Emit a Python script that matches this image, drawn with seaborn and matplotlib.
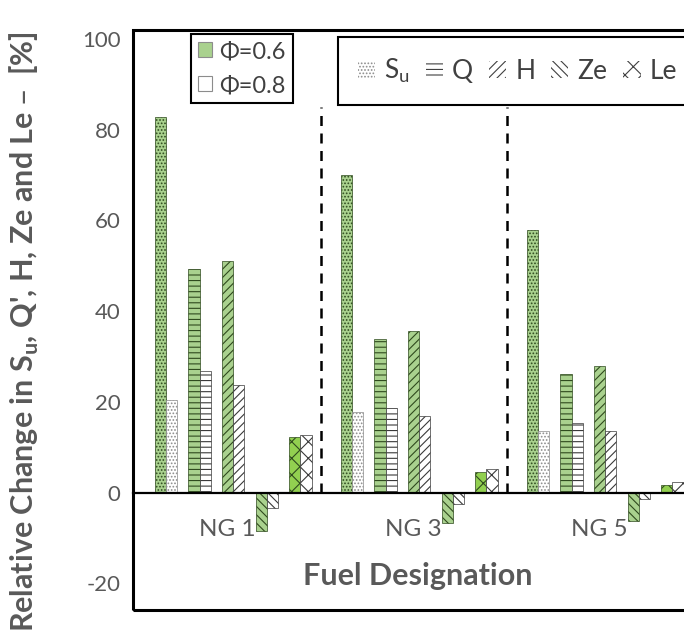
import matplotlib
matplotlib.use('Agg')
import matplotlib.pyplot as plt
from matplotlib.patches import Patch, Rectangle
import pandas as pd
import seaborn as sns

# values (relative change, %)
fuels = ['NG 1', 'NG 3', 'NG 5']
metrics = ['Su', 'Q', 'H', 'Ze', 'Le']
metric_labels = ['S$_\\mathregular{u}$', 'Q', 'H', 'Ze', 'Le']

su_06 = [82.9, 70.0, 57.8]
su_08 = [20.5, 17.8, 13.6]
q_06 = [49.3, 33.8, 26.1]
q_08 = [26.8, 18.7, 15.3]
h_06 = [51.1, 35.6, 27.8]
h_08 = [23.8, 16.8, 13.6]
ze_06 = [-8.5, -6.8, -6.3]
ze_08 = [-3.3, -2.6, -1.5]
le_06 = [12.2, 4.6, 1.6]
le_08 = [12.7, 5.3, 2.3]

yticks = [-20, 0, 20, 40, 60, 80, 100]

values = {
    ('Su', '0.6'): su_06, ('Su', '0.8'): su_08,
    ('Q', '0.6'): q_06, ('Q', '0.8'): q_08,
    ('H', '0.6'): h_06, ('H', '0.8'): h_08,
    ('Ze', '0.6'): ze_06, ('Ze', '0.8'): ze_08,
    ('Le', '0.6'): le_06, ('Le', '0.8'): le_08,
}

rows = []
for (m, phi), vals in values.items():
    for f, v in zip(fuels, vals):
        rows.append({'fuel': f, 'series': m + ' ' + phi, 'value': v})
df = pd.DataFrame(rows)

# empty "gap" levels keep space between the metric pairs
hue_order = []
for m in metrics:
    hue_order += ['gap ' + m, m + ' 0.6', m + ' 0.8']

green = '#a9d18e'
green_le = '#92d050'
palette = {}
for s in hue_order:
    if s.endswith('0.6'):
        palette[s] = green_le if s.startswith('Le') else green
    else:
        palette[s] = 'white'

hatches = {'Su': '.....', 'Q': '---', 'H': '////', 'Ze': '\\\\\\\\', 'Le': 'xx'}

sns.set_style('white')
plt.rcParams['font.family'] = ['Lato', 'DejaVu Sans']
plt.rcParams['hatch.linewidth'] = 0.8

fig = plt.figure(figsize=(6.84, 6.39), dpi=100)
ax = fig.add_axes([133 / 684, 29 / 639, 567 / 684, 580 / 639])

sns.barplot(data=df, x='fuel', y='value', hue='series', hue_order=hue_order,
            order=fuels, palette=palette, width=0.903, errorbar=None,
            saturation=1, legend=False, ax=ax)

conts = [c for c in ax.containers if len(c) > 0]
present = [s for s in hue_order if not s.startswith('gap')]
for cont, name in zip(conts, present):
    m, phi = name.split()
    if phi == '0.6':
        ec = '#2f4a1e'
    else:
        ec = '#8c8c8c' if m == 'Su' else '#3a3a3a'
    for p in cont:
        p.set_hatch(hatches[m])
        p.set_edgecolor(ec)
        p.set_linewidth(0.5)

ax.set_xlim(-0.5086, 2.5398)
ax.set_ylim(-25.9, 102.0)
ax.set_yticks(yticks)
ax.set_yticklabels([str(t) for t in yticks])

# category axis crosses at zero, as in the original
for sp in ['left', 'right', 'top']:
    ax.spines[sp].set_visible(False)
ax.spines['bottom'].set_position(('data', 0))
ax.spines['bottom'].set_color('black')
ax.spines['bottom'].set_linewidth(1.6)
ax.add_patch(Rectangle((0, 0), 1, 1, transform=ax.transAxes, fill=False,
                       ec='black', lw=2.2, clip_on=False, zorder=5))

ax.tick_params(axis='x', length=0, pad=19, labelsize=17.5, labelcolor='#595959')
ax.tick_params(axis='y', length=0, pad=9, labelsize=16, labelcolor='#595959')

ax.vlines([0.5, 1.5], 0, 85, colors='black', linestyles=(0, (4, 3)), lw=1.8)

ax.set_xlabel('Fuel Designation', fontsize=22, fontweight='bold', color='#595959')
ax.xaxis.set_label_coords(0.503, 0.083)
ax.set_ylabel("Relative Change in S$_\\mathregular{u}$, Q', H, Ze and Le \u2013  [%]",
              fontsize=22, fontweight='bold', color='#595959')
ax.yaxis.set_label_coords(-0.163, 0.48)

phi_handles = [Patch(fc=green, ec='#8c8c8c', lw=0.8, label='\u03a6=0.6'),
               Patch(fc='white', ec='#8c8c8c', lw=0.8, label='\u03a6=0.8')]
leg1 = ax.legend(handles=phi_handles, loc='upper left',
                 bbox_to_anchor=(191 / 684, 1 - 34 / 639), bbox_transform=fig.transFigure,
                 fancybox=False, edgecolor='black', framealpha=1, fontsize=17,
                 labelcolor='#404040', handlelength=0.6, handleheight=0.6,
                 handletextpad=0.3, labelspacing=0.55, borderaxespad=0, borderpad=0.3)
leg1.get_frame().set_linewidth(1.5)
ax.add_artist(leg1)

met_handles = []
for m, lbl in zip(metrics, metric_labels):
    ec = '#8c8c8c' if m == 'Su' else '#404040'
    met_handles.append(Patch(fc='white', ec=ec, lw=0, hatch=hatches[m], label=lbl))
leg2 = ax.legend(handles=met_handles, loc='upper left', ncol=5,
                 bbox_to_anchor=(338 / 684, 1 - 37 / 639), bbox_transform=fig.transFigure,
                 fancybox=False, edgecolor='black', framealpha=1, fontsize=19,
                 labelcolor='#404040', handlelength=0.65, handleheight=0.65,
                 handletextpad=0.35, columnspacing=0.6, borderaxespad=0, borderpad=0.75)
leg2.get_frame().set_linewidth(1.5)

fig.savefig('out.png', dpi=100)
